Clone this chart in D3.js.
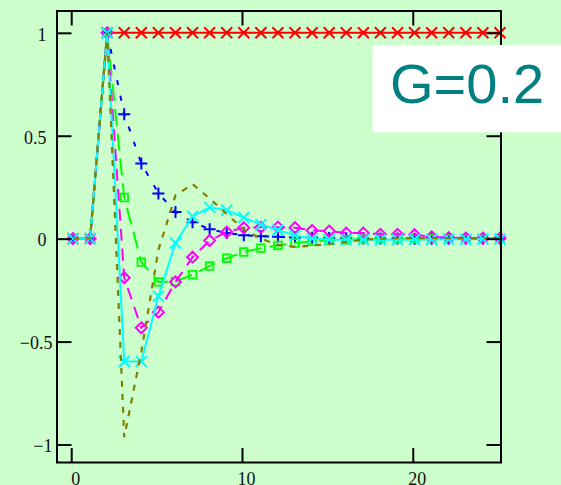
<!DOCTYPE html>
<html>
<head>
<meta charset="utf-8">
<script src="https://cdn.jsdelivr.net/npm/d3@7"></script>
<style>
  html, body { margin: 0; padding: 0; background: #ccffcc; }
  svg { display: block; }
</style>
</head>
<body>
<svg id="chart" width="561" height="485"></svg>
<script>
// Sample index (0..25) shared by every response series
const steps = d3.range(0, 26);

// Step reference and filtered responses
const refStep = [0, 0, 1, 1, 1, 1, 1, 1, 1, 1, 1, 1, 1, 1, 1, 1, 1, 1, 1, 1, 1, 1, 1, 1, 1, 1];
const blueResp = [0, 0, 1, 0.605, 0.365, 0.22, 0.13, 0.08, 0.046, 0.027, 0.017, 0.012, 0.009, 0.006, 0.004, 0.003, 0.002, 0.001, 0.001, 0.001, 0, 0, 0, 0, 0, 0];
const greenResp = [0, 0, 1, 0.2, -0.114, -0.21, -0.208, -0.175, -0.133, -0.095, -0.065, -0.046, -0.033, -0.021, -0.013, -0.008, -0.005, -0.003, -0.002, -0.001, -0.001, 0, 0, 0, 0, 0];
const magentaResp = [0, 0, 1, -0.19, -0.433, -0.357, -0.21, -0.09, -0.009, 0.032, 0.053, 0.055, 0.056, 0.053, 0.04, 0.037, 0.027, 0.027, 0.021, 0.021, 0.019, 0.009, 0.005, 0.003, 0.003, 0.003];
const cyanResp = [0, 0, 1, -0.597, -0.597, -0.28, -0.021, 0.108, 0.152, 0.138, 0.103, 0.069, 0.042, 0.016, 0.0, -0.004, -0.005, -0.005, -0.005, -0.005, -0.004, -0.004, -0.003, -0.003, -0.002, -0.002];
const oliveResp = [0, 0, 1, -0.965, -0.55, -0.055, 0.21, 0.265, 0.195, 0.12, 0.045, 0.0, -0.03, -0.04, -0.033, -0.027, -0.016, -0.005, 0, 0.002, 0.003, 0.003, 0.002, 0.001, 0, 0];

// Axis ticks
const xTicks = [0, 10, 20];
const yTicks = [-1, -0.5, 0, 0.5, 1];

// Annotation
const annotation = "G=0.2";

const svg = d3.select("#chart");
const W = 561, H = 485;
const frame = { left: 57, right: 501, top: 11, bottom: 462.5 };

svg.append("rect").attr("width", W).attr("height", H).attr("fill", "#ccffcc");

const x = d3.scaleLinear().domain([-0.937, 25.06]).range([frame.left, frame.right]);
const y = d3.scaleLinear().domain([-1.0874, 1.106]).range([frame.bottom, frame.top]);

// Series definitions: values, colour, dash pattern, marker kind
const series = [
  { values: refStep,     color: "#ff0000", dash: null,   marker: "x" },
  { values: blueResp,    color: "#0000ff", dash: "5,11", marker: "plus" },
  { values: greenResp,   color: "#00ff00", dash: "17,8", marker: "square" },
  { values: magentaResp, color: "#ff00ff", dash: "12,8", marker: "diamond" },
  { values: cyanResp,    color: "#00ffff", dash: null,   marker: "x" },
  { values: oliveResp,   color: "#808000", dash: "6,7",  marker: null }
];

function markerPath(kind, cx, cy) {
  const p = d3.path();
  if (kind === "x") {
    const r = 5.5;
    p.moveTo(cx - r, cy - r); p.lineTo(cx + r, cy + r);
    p.moveTo(cx - r, cy + r); p.lineTo(cx + r, cy - r);
  } else if (kind === "plus") {
    const r = 6;
    p.moveTo(cx - r, cy); p.lineTo(cx + r, cy);
    p.moveTo(cx, cy - r); p.lineTo(cx, cy + r);
  } else if (kind === "square") {
    const r = 3.8;
    p.rect(cx - r, cy - r, 2 * r, 2 * r);
  } else if (kind === "diamond") {
    const r = 5.5;
    p.moveTo(cx, cy - r); p.lineTo(cx + r, cy); p.lineTo(cx, cy + r); p.lineTo(cx - r, cy); p.closePath();
  }
  return p.toString();
}

const plot = svg.append("g");
const line = d3.line().x((d, i) => x(steps[i])).y(d => y(d));

series.forEach(s => {
  const g = plot.append("g");
  g.append("path")
    .attr("d", line(s.values))
    .attr("fill", "none")
    .attr("stroke", s.color)
    .attr("stroke-width", s.color === "#808000" ? 2.2 : 2)
    .attr("stroke-dasharray", s.dash);
  if (s.marker) {
    g.selectAll("path.mk")
      .data(s.values)
      .join("path")
      .attr("class", "mk")
      .attr("d", (d, i) => markerPath(s.marker, x(steps[i]), y(d)))
      .attr("fill", "none")
      .attr("stroke", s.color)
      .attr("stroke-width", s.marker === "square" ? 1.8 : 2);
  }
});

// Frame
svg.append("rect")
  .attr("x", frame.left).attr("y", frame.top)
  .attr("width", frame.right - frame.left).attr("height", frame.bottom - frame.top)
  .attr("fill", "none").attr("stroke", "#000").attr("stroke-width", 2);

// Mirrored inward ticks on all four sides
const tickLen = 14.5;
const tickShift = -1.8;
const axisStyle = g => {
  g.select(".domain").remove();
  g.selectAll(".tick line").attr("stroke", "#000").attr("stroke-width", 2);
  g.selectAll(".tick text").remove();
};
svg.append("g").attr("transform", `translate(${tickShift},${frame.bottom})`)
  .call(d3.axisTop(x).tickValues(xTicks).tickSize(tickLen)).call(axisStyle);
svg.append("g").attr("transform", `translate(${tickShift},${frame.top})`)
  .call(d3.axisBottom(x).tickValues(xTicks).tickSize(tickLen)).call(axisStyle);
svg.append("g").attr("transform", `translate(${frame.left},0)`)
  .call(d3.axisRight(y).tickValues(yTicks).tickSize(tickLen)).call(axisStyle);
svg.append("g").attr("transform", `translate(${frame.right},0)`)
  .call(d3.axisLeft(y).tickValues(yTicks).tickSize(tickLen)).call(axisStyle);

// Tick labels
const fmt = v => (v < 0 ? "\u2212" : "") + String(Math.abs(v));
svg.append("g").selectAll("text")
  .data(xTicks).join("text")
  .attr("x", d => x(d) + 2.7)
  .attr("y", 484.5)
  .attr("text-anchor", "middle")
  .attr("font-family", "'Liberation Serif', 'Times New Roman', serif")
  .attr("font-size", 18)
  .attr("fill", "#111")
  .text(fmt);
svg.append("g").selectAll("text")
  .data(yTicks).join("text")
  .attr("x", d => d < 0 ? 52.5 : 46.5)
  .attr("y", d => y(d) + 7.8)
  .attr("text-anchor", "end")
  .attr("font-family", "'Liberation Serif', 'Times New Roman', serif")
  .attr("font-size", 18)
  .attr("fill", "#111")
  .text(fmt);

// Annotation box
svg.append("rect")
  .attr("x", 372.7).attr("y", 45)
  .attr("width", W - 372.7).attr("height", 87.3)
  .attr("fill", "#ffffff");
svg.append("text")
  .attr("x", 390)
  .attr("y", 102.7)
  .attr("font-family", "'Liberation Sans', Arial, sans-serif")
  .attr("font-size", 56)
  .attr("fill", "#008080")
  .text(annotation);
</script>
</body>
</html>
